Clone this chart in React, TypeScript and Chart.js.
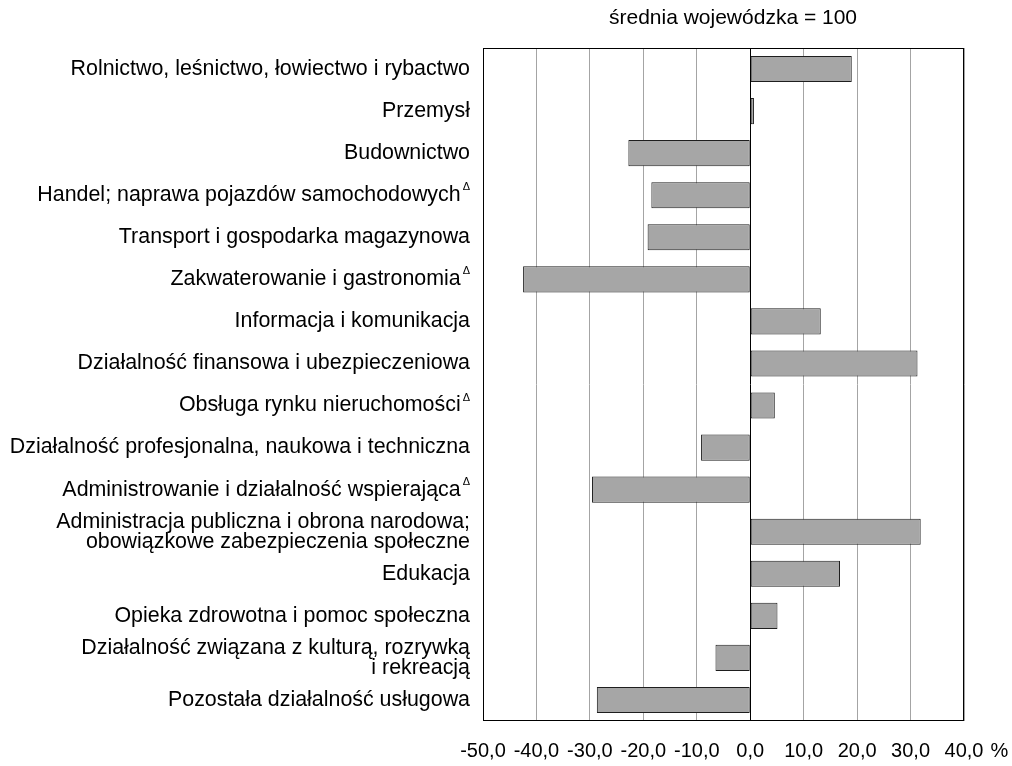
import React, { useEffect, useRef } from "react";
import { Chart, registerables } from "chart.js";

Chart.register(...registerables);

const categories: string[][] = [
  ["Rolnictwo, leśnictwo, łowiectwo i rybactwo"],
  ["Przemysł"],
  ["Budownictwo"],
  ["Handel; naprawa pojazdów samochodowych"],
  ["Transport i gospodarka magazynowa"],
  ["Zakwaterowanie i gastronomia"],
  ["Informacja i komunikacja"],
  ["Działalność finansowa i ubezpieczeniowa"],
  ["Obsługa rynku nieruchomości"],
  ["Działalność profesjonalna, naukowa i techniczna"],
  ["Administrowanie i działalność wspierająca"],
  ["Administracja publiczna i obrona narodowa;", "obowiązkowe zabezpieczenia społeczne"],
  ["Edukacja"],
  ["Opieka zdrowotna i pomoc społeczna"],
  ["Działalność związana z kulturą, rozrywką", "i rekreacją"],
  ["Pozostała działalność usługowa"],
];

const deltaMarked: boolean[] = [
  false, false, false, true, false, true, false, false,
  true, false, true, false, false, false, false, false,
];

const values: number[] = [
  19.0, 0.7, -22.8, -18.5, -19.2, -42.5, 13.2, 31.3,
  4.6, -9.2, -29.6, 31.9, 16.8, 5.1, -6.5, -28.7,
];

const xMin = -50;
const xMax = 40;
const xStep = 10;
const xUnit = "%";
const subtitle = "średnia wojewódzka = 100";
const deltaSign = "Δ";

const FONT = "'Liberation Sans', Arial, sans-serif";
const FS_LABEL = 21.4;
const FS_TICK = 20;
const FS_TITLE = 21;

export default function App() {
  const canvasRef = useRef<HTMLCanvasElement | null>(null);

  useEffect(() => {
    const canvas = canvasRef.current;
    if (!canvas) return;

    const overlay = {
      id: "overlay",
      afterDraw(chart: any) {
        const ctx = chart.ctx as CanvasRenderingContext2D;
        const ca = chart.chartArea;
        const yScale = chart.scales.y;
        const xScale = chart.scales.x;
        ctx.save();
        // frame
        ctx.strokeStyle = "#000";
        ctx.lineWidth = 1;
        ctx.strokeRect(Math.round(ca.left) + 0.5, Math.round(ca.top) + 0.5, Math.round(ca.width) - 1, Math.round(ca.height) - 1);

        // category labels
        const rightEdge = 470;
        const lineH = 20;
        ctx.fillStyle = "#000";
        ctx.textBaseline = "middle";
        categories.forEach((lines, i) => {
          const yc = yScale.getPixelForValue(i);
          const y0 = yc - ((lines.length - 1) * lineH) / 2;
          ctx.font = `11px ${FONT}`;
          const dW = deltaMarked[i] ? ctx.measureText(deltaSign).width + 2 : 0;
          lines.forEach((ln, k) => {
            ctx.font = `${FS_LABEL}px ${FONT}`;
            ctx.textAlign = "right";
            const tx = rightEdge - dW;
            const ty = y0 + k * lineH;
            ctx.fillText(ln, tx, ty);
            if (deltaMarked[i] && k === lines.length - 1) {
              ctx.font = `11px ${FONT}`;
              ctx.textAlign = "left";
              ctx.fillText(deltaSign, tx + 2, ty - 8);
            }
          });
        });

        // subtitle
        ctx.font = `${FS_TITLE}px ${FONT}`;
        ctx.textAlign = "center";
        ctx.fillText(subtitle, 733, 18);

        // unit after last tick
        ctx.font = `${FS_TICK}px ${FONT}`;
        const lastX = xScale.getPixelForValue(xMax);
        const lastLabel = xMax.toFixed(1).replace(".", ",");
        const w = ctx.measureText(lastLabel).width;
        ctx.textAlign = "left";
        ctx.fillText(xUnit, lastX + w / 2 + 7, 751);
        ctx.restore();
      },
    };

    const chart = new Chart(canvas, {
      type: "bar",
      data: {
        labels: categories.map((c) => c.join(" ")),
        datasets: [
          {
            data: values,
            backgroundColor: "#a6a6a6",
            borderColor: "#1e1e1e",
            borderWidth: 1,
            borderSkipped: false,
            barPercentage: 0.62,
            categoryPercentage: 1,
          },
        ],
      },
      options: {
        indexAxis: "y",
        responsive: false,
        animation: false,
        devicePixelRatio: 1,
        layout: { padding: { top: 48, right: 48, left: 0, bottom: 0 } },
        plugins: {
          legend: { display: false },
          tooltip: { enabled: false },
          title: { display: false },
        },
        scales: {
          x: {
            min: xMin,
            max: xMax,
            afterFit: (s: any) => {
              s.height = 45;
            },
            ticks: {
              stepSize: xStep,
              color: "#000",
              font: { family: FONT, size: FS_TICK },
              padding: 18,
              maxRotation: 0,
              autoSkip: false,
              callback: (v: any) => Number(v).toFixed(1).replace(".", ","),
            },
            grid: {
              drawTicks: false,
              color: (c: any) => (c.tick && c.tick.value === 0 ? "#000" : "#a4a4a4"),
              lineWidth: 1,
            },
            border: { display: false },
          },
          y: {
            afterFit: (s: any) => {
              s.width = 483;
            },
            ticks: { display: false },
            grid: { display: false, drawTicks: false },
            border: { display: false },
          },
        },
      },
      plugins: [overlay],
    } as any);

    return () => chart.destroy();
  }, []);

  return (
    <div style={{ position: "absolute", left: 0, top: 0, width: 1012, height: 766, background: "#fff" }}>
      <canvas ref={canvasRef} width={1012} height={766} style={{ width: 1012, height: 766, display: "block" }} />
    </div>
  );
}
